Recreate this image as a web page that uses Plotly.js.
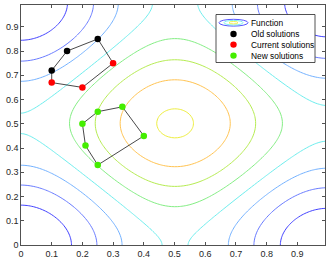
<!DOCTYPE html>
<html>
<head>
<meta charset="utf-8">
<script src="https://cdn.plot.ly/plotly-3.0.1.min.js"></script>
<style>html,body{margin:0;padding:0;background:#fff}#chart{width:332px;height:262px}</style>
</head>
<body>
<div id="chart"></div>
<script>
// ---- data ----
const gridStep = 0.01;
const gridMax = 0.99;
const levels = [-1.5, -1.0, -0.5, 0.0, 0.5, 1.0, 1.5, 2.0];
const levelColors = ['#4343ff', '#6a7cff', '#74b2ff', '#6eeeee', '#84ee84', '#b6ec52', '#ffc452', '#eeee40'];
const tilt = 0.07;
function fn(x, y) { return -Math.cos(2 * Math.PI * x) - Math.cos(2 * Math.PI * y) + tilt * (x + y); }

const oldX = [0.10, 0.15, 0.25];
const oldY = [0.72, 0.80, 0.85];
const curX = [0.30, 0.20, 0.10];
const curY = [0.75, 0.65, 0.67];
const newX = [0.20, 0.25, 0.33, 0.40, 0.25, 0.21];
const newY = [0.50, 0.55, 0.57, 0.45, 0.33, 0.41];

const tickVals = [0, 0.1, 0.2, 0.3, 0.4, 0.5, 0.6, 0.7, 0.8, 0.9];
const legendLabels = ['Function', 'Old solutions', 'Current solutions', 'New solutions'];
const markerColors = ['#000000', '#ff0000', '#44ee00'];

// ---- grid ----
const gx = [];
for (let i = 0; i <= Math.round(gridMax / gridStep); i++) gx.push(+(i * gridStep).toFixed(4));
const gy = gx.slice();
const z = gy.map(y => gx.map(x => fn(x, y)));

const traces = [];
levels.forEach((L, k) => {
  traces.push({
    type: 'contour', x: gx, y: gy, z: z,
    autocontour: false,
    contours: {start: L, end: L + 1e-4, size: 1, coloring: 'lines'},
    colorscale: [[0, levelColors[k]], [1, levelColors[k]]],
    line: {width: 1, smoothing: 1},
    showscale: false, hoverinfo: 'skip', showlegend: false
  });
});

const poly1X = oldX.concat(curX, [oldX[0]]);
const poly1Y = oldY.concat(curY, [oldY[0]]);
const poly2X = newX.concat([newX[0]]);
const poly2Y = newY.concat([newY[0]]);
[[poly1X, poly1Y], [poly2X, poly2Y]].forEach(p => traces.push({
  type: 'scatter', mode: 'lines', x: p[0], y: p[1],
  line: {color: '#1a1a1a', width: 0.8}, showlegend: false, hoverinfo: 'skip'
}));
[[oldX, oldY], [curX, curY], [newX, newY]].forEach((p, i) => traces.push({
  type: 'scatter', mode: 'markers', x: p[0], y: p[1],
  marker: {color: markerColors[i], size: 6.5, line: {width: 0}},
  showlegend: false, hoverinfo: 'skip'
}));

// ---- layout ----
const M = {l: 21, r: 7, t: 5, b: 17};
const PW = 332 - M.l - M.r, PH = 262 - M.t - M.b;
const pxX = p => (p - M.l) / PW;
const pxY = p => (262 - M.b - p) / PH;

const axisCommon = {
  range: [0, gridMax], tickvals: tickVals, ticks: 'inside', ticklen: 3, tickwidth: 0.8,
  tickcolor: '#262626', showline: true, linecolor: '#262626', linewidth: 0.8, mirror: 'ticks',
  showgrid: false, zeroline: false,
  tickfont: {family: 'Liberation Sans, Arial, sans-serif', size: 9, color: '#262626'}
};

const shapes = [];
const annotations = [];
// legend box
shapes.push({type: 'rect', xref: 'paper', yref: 'paper', x0: pxX(216), x1: pxX(315), y0: pxY(14.5), y1: pxY(62.5),
  fillcolor: '#ffffff', line: {color: '#262626', width: 0.8}, layer: 'above'});
const iconX = 233.5;
const rowY = [22.7, 34, 44.6, 55.6];
// function icon: nested ellipses
[[14.5, 3.4, levelColors[0]], [9.5, 2.3, levelColors[3]], [4.5, 1.2, levelColors[7]]].forEach(e => {
  shapes.push({type: 'circle', xref: 'paper', yref: 'paper', xsizemode: 'pixel', ysizemode: 'pixel',
    xanchor: pxX(iconX), yanchor: pxY(rowY[0]), x0: -e[0], x1: e[0], y0: -e[1], y1: e[1],
    line: {color: e[2], width: 0.9}, fillcolor: 'rgba(0,0,0,0)', layer: 'above'});
});
markerColors.forEach((c, i) => {
  shapes.push({type: 'circle', xref: 'paper', yref: 'paper', xsizemode: 'pixel', ysizemode: 'pixel',
    xanchor: pxX(iconX), yanchor: pxY(rowY[i + 1]), x0: -3.2, x1: 3.2, y0: -3.2, y1: 3.2,
    line: {color: c, width: 0}, fillcolor: c, layer: 'above'});
});
legendLabels.forEach((t, i) => annotations.push({
  xref: 'paper', yref: 'paper', x: pxX(249), y: pxY(rowY[i]), xanchor: 'left', yanchor: 'middle',
  text: t, showarrow: false, font: {family: 'Liberation Sans, Arial, sans-serif', size: 8.4, color: '#000'}
}));

const layout = {
  width: 332, height: 262, margin: M,
  paper_bgcolor: '#fff', plot_bgcolor: '#fff',
  xaxis: Object.assign({}, axisCommon),
  yaxis: Object.assign({}, axisCommon),
  shapes: shapes, annotations: annotations, showlegend: false
};
Plotly.newPlot('chart', traces, layout, {staticPlot: true, displayModeBar: false});
</script>
</body>
</html>
